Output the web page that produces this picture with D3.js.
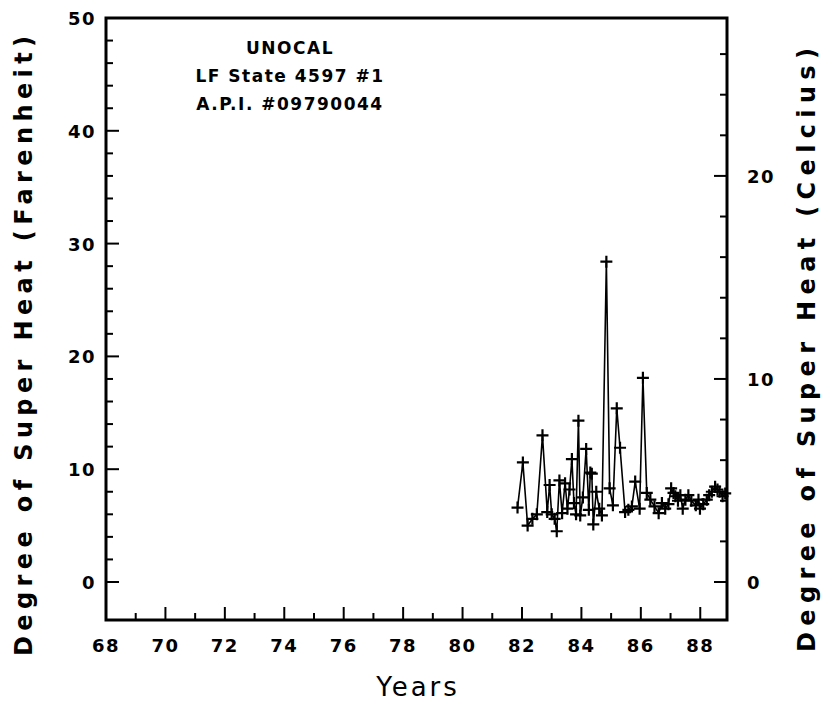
<!DOCTYPE html>
<html><head><meta charset="utf-8">
<script src="https://cdn.jsdelivr.net/npm/d3@7"></script>
<style>body{margin:0;background:#fff}svg{display:block}text{font-family:"DejaVu Sans",sans-serif;font-weight:bold;fill:#000}</style>
</head><body><svg id="c" width="830" height="703"></svg>
<script>
const years = [81.85,82.03,82.19,82.35,82.5,82.69,82.85,82.93,83.0,83.1,83.17,83.26,83.35,83.45,83.53,83.6,83.68,83.75,83.82,83.9,83.96,84.05,84.16,84.25,84.3,84.35,84.4,84.5,84.6,84.69,84.84,84.95,85.06,85.19,85.3,85.47,85.58,85.7,85.81,85.96,86.07,86.2,86.32,86.46,86.6,86.71,86.82,86.93,87.02,87.1,87.16,87.25,87.33,87.41,87.5,87.6,87.7,87.85,87.94,87.99,88.1,88.22,88.3,88.39,88.5,88.58,88.65,88.75,88.84];
const superHeatF = [6.6,10.6,5.0,5.6,6.0,13.0,6.2,8.6,6.0,5.6,4.5,9.0,6.1,8.75,6.5,8.2,10.9,7.0,6.0,14.3,5.9,7.5,11.8,6.4,9.7,9.6,5.1,8.0,6.5,5.9,28.4,8.3,6.8,15.4,11.9,6.2,6.4,6.7,8.9,6.5,18.1,7.9,7.3,6.7,6.1,7.0,6.5,6.9,8.3,7.9,7.6,7.2,7.7,6.5,7.3,7.7,7.2,6.8,7.3,6.5,6.9,7.3,7.7,8.0,8.45,8.2,8.0,7.6,7.85];
const xTickLabels = [68,70,72,74,76,78,80,82,84,86,88];
const yTickLabelsF = [0,10,20,30,40,50];
const yTickLabelsC = [0,10,20];
const titleLines = ["UNOCAL","LF State 4597 #1","A.P.I. #09790044"];

const svg = d3.select("#c");
const L=106,R=727,T=18,B=620;
const x = d3.scaleLinear().domain([68,88.9]).range([L,R]);
const yF = d3.scaleLinear().domain([-3.37,50]).range([B,T]);
const yC = d3.scaleLinear().domain([-3.37*5/9,50*5/9]).range([B,T]);

svg.append("rect").attr("x",L).attr("y",T).attr("width",R-L).attr("height",B-T)
  .attr("fill","none").attr("stroke","#000").attr("stroke-width",3);

const xt = d3.range(69,89,1);
svg.append("g").selectAll("line").data(xt).join("line")
  .attr("x1",d=>x(d)).attr("x2",d=>x(d)).attr("y1",B)
  .attr("y2",d=>B-(d%2===0?13:7)).attr("stroke","#000").attr("stroke-width",2);
svg.append("g").selectAll("text").data(xTickLabels).join("text")
  .attr("x",d=>x(d)).attr("y",652).attr("text-anchor","middle")
  .style("font-size","18px").style("letter-spacing","1.5px").text(d=>d);

const ytF = d3.range(0,50,2);
svg.append("g").selectAll("line").data(ytF).join("line")
  .attr("y1",d=>yF(d)).attr("y2",d=>yF(d)).attr("x1",L)
  .attr("x2",d=>L+(d%10===0?13:7)).attr("stroke","#000").attr("stroke-width",2);
svg.append("g").selectAll("text").data(yTickLabelsF).join("text")
  .attr("x",96).attr("y",d=>yF(d)+7).attr("text-anchor","end")
  .style("font-size","18px").style("letter-spacing","1.5px").text(d=>d);

const ytC = d3.range(0,28,2);
svg.append("g").selectAll("line").data(ytC).join("line")
  .attr("y1",d=>yC(d)).attr("y2",d=>yC(d)).attr("x1",R)
  .attr("x2",d=>R-(d%10===0?13:7)).attr("stroke","#000").attr("stroke-width",2);
svg.append("g").selectAll("text").data(yTickLabelsC).join("text")
  .attr("x",747).attr("y",d=>yC(d)+7).attr("text-anchor","start")
  .style("font-size","18px").style("letter-spacing","1.5px").text(d=>d);

svg.append("text").attr("transform","translate(418,688)").attr("text-anchor","middle")
  .attr("dominant-baseline","middle").style("font-size","26px").style("font-weight","normal")
  .style("letter-spacing","3px").text("Years");
svg.append("text").attr("transform","translate(25,346) rotate(-90)").attr("text-anchor","middle")
  .attr("dominant-baseline","middle").style("font-size","24px")
  .attr("textLength",620).attr("lengthAdjust","spacing").text("Degree of Super Heat (Farenheit)");
svg.append("text").attr("transform","translate(808,350) rotate(-90)").attr("text-anchor","middle")
  .attr("dominant-baseline","middle").style("font-size","24px")
  .attr("textLength",604).attr("lengthAdjust","spacing").text("Degree of Super Heat (Celcius)");

svg.append("g").selectAll("text").data(titleLines).join("text")
  .attr("x",290).attr("y",(d,i)=>54+i*28).attr("text-anchor","middle")
  .style("font-size","17px").style("letter-spacing","1.5px").text(d=>d);

const pts = years.map((d,i)=>[d,superHeatF[i]]);
svg.append("path").datum(pts)
  .attr("d",d3.line().x(d=>x(d[0])).y(d=>yF(d[1])))
  .attr("fill","none").attr("stroke","#000").attr("stroke-width",1.6);
const mk = svg.append("g").attr("stroke","#000").attr("stroke-width",2.2);
mk.selectAll("path").data(pts).join("path")
  .attr("d",d=>{const cx=x(d[0]),cy=yF(d[1]);return `M${cx-6},${cy}H${cx+6}M${cx},${cy-6}V${cy+6}`;});
</script></body></html>
